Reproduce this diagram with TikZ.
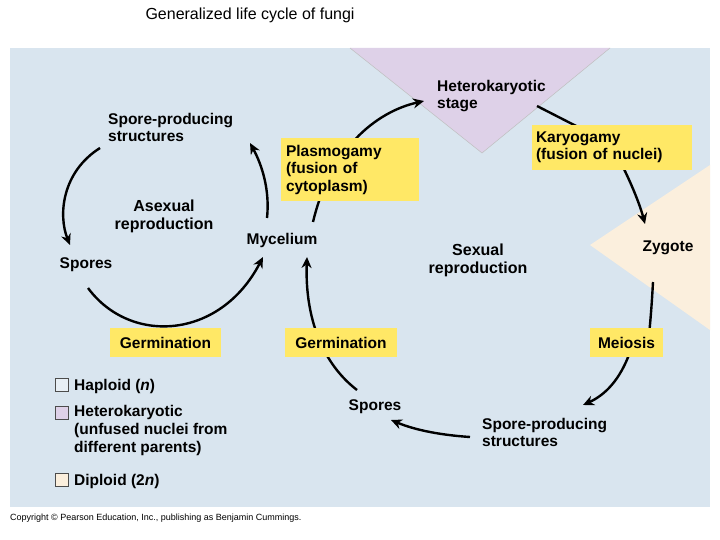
\documentclass[tikz,border=0pt]{standalone}
\usepackage{fontspec}
\setmainfont{Liberation Sans}
\usetikzlibrary{arrows.meta}
\definecolor{bg}{HTML}{D9E5EF}
\definecolor{het}{HTML}{DED1E8}
\definecolor{dip}{HTML}{FBEFDD}
\definecolor{yel}{HTML}{FFE866}
\begin{document}
\begin{tikzpicture}[x=1pt,y=-1pt,
  lab/.style={font=\fontsize{15.5}{17}\selectfont\bfseries,align=left,inner sep=1pt},
  cat/.style={font=\fontsize{16}{18}\selectfont\bfseries,align=center,inner sep=1pt},
  ybox/.style={fill=yel,font=\fontsize{15.5}{17.5}\selectfont\bfseries,align=left,inner sep=0pt},
  arr/.style={line width=2.4pt,-{Stealth[length=11pt,width=10pt]}},
  seg/.style={line width=2.4pt},
  key/.style={draw=black!70,line width=0.6pt,minimum size=13pt,inner sep=0pt}]
\useasboundingbox (0,0) rectangle (720,540);
\fill[white] (0,0) rectangle (720,540);
\fill[bg] (10,48) rectangle (710,507);
\fill[het] (350,48) -- (610,48) -- (482,153) -- cycle;
\draw[black!25,line width=0.5pt] (350,48) -- (482,153) -- (610,48);
\fill[dip] (710,165) -- (590,245) -- (710,330) -- cycle;
\node[font=\fontsize{16}{18}\selectfont,anchor=west] (title) at (142,15) {Generalized life cycle of fungi};
% arrows (drawn below boxes)
\draw[arr] (100,148) .. controls (62,172) and (58,215) .. (70,245);
\draw[arr] (88,288) .. controls (130,345) and (220,340) .. (263,257);
\draw[arr] (267,218) .. controls (270,190) and (262,165) .. (250,143);
\draw[arr] (313,222) .. controls (330,150) and (375,112) .. (424,101);
\draw[seg] (537,106) -- (580,128);
\draw[arr] (622,165) .. controls (632,185) and (640,205) .. (645,224);
\draw[seg] (653,282) .. controls (652,300) and (651,315) .. (649,335);
\draw[arr] (630,352) .. controls (620,380) and (605,395) .. (583,405);
\draw[arr] (470,437) .. controls (440,435) and (415,430) .. (391,420);
\draw[arr] (357,390) .. controls (318,360) and (305,310) .. (307,257);
% yellow boxes
\node[ybox,minimum width=138pt,minimum height=63pt,text width=128pt] (plas) at (350,169.5) {Plasmogamy\\(fusion of\\cytoplasm)};
\node[ybox,minimum width=160pt,minimum height=45pt,text width=152pt] (kary) at (612,147.5) {Karyogamy\\(fusion of nuclei)};
\node[ybox,minimum width=111pt,minimum height=29pt] (germ1) at (165.5,342.5) {Germination};
\node[ybox,minimum width=112pt,minimum height=29pt] (germ2) at (341,342.5) {Germination};
\node[ybox,minimum width=73pt,minimum height=29pt] (mei) at (626.5,342.5) {Meiosis};
% labels
\node[lab,anchor=west] (sps1) at (107,127) {Spore-producing\\structures};
\node[cat] (asex) at (164,216) {Asexual\\reproduction};
\node[lab] (spo1) at (86,265) {Spores};
\node[lab] (myc) at (282,240) {Mycelium};
\node[lab,anchor=west] (het) at (436,96) {Heterokaryotic\\stage};
\node[lab] (zyg) at (668,248) {Zygote};
\node[cat] (sex) at (478,260) {Sexual\\reproduction};
\node[lab] (spo2) at (375,407) {Spores};
\node[lab,anchor=west] (sps2) at (481,432) {Spore-producing\\structures};
% legend
\node[key,fill=bg!60!white] (k1) at (62,385) {};
\node[key,fill=het] (k2) at (62,413) {};
\node[key,fill=dip] (k3) at (62,480) {};
\node[lab,anchor=west] (l1) at (73,386) {Haploid (\textit{n})};
\node[lab,anchor=north west,font=\fontsize{15.5}{18}\selectfont\bfseries] (l2) at (73,404) {Heterokaryotic\\(unfused nuclei from\\different parents)};
\node[lab,anchor=west] (l3) at (73,481) {Diploid (2\textit{n})};
\node[font=\fontsize{9}{10}\selectfont,anchor=west,inner sep=0pt] (copy) at (10,518) {Copyright \textcopyright{} Pearson Education, Inc., publishing as Benjamin Cummings.};
\end{tikzpicture}
\end{document}
